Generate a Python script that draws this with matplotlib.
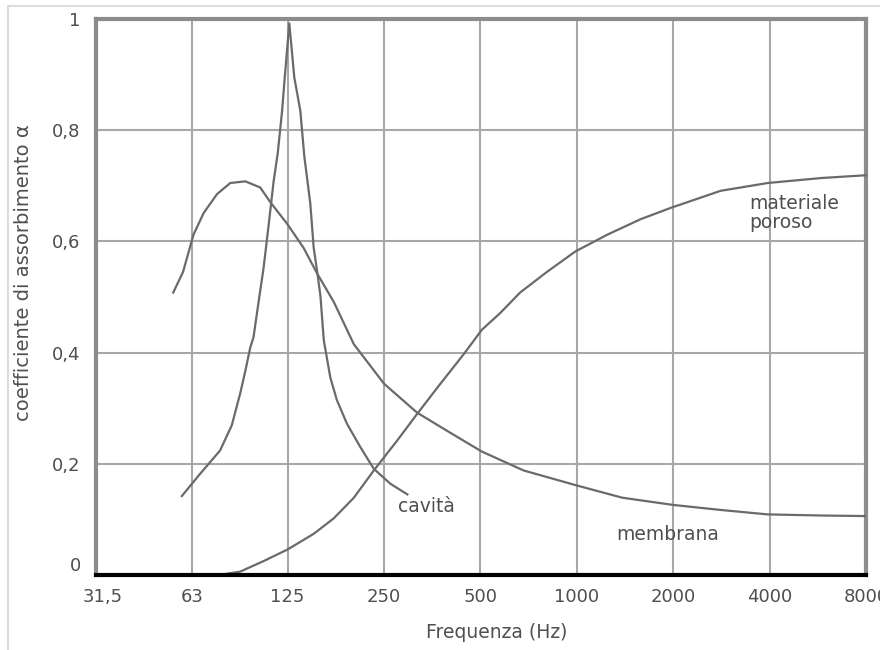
import matplotlib
matplotlib.use('Agg')
import matplotlib.pyplot as plt
from matplotlib.lines import Line2D
from matplotlib.transforms import ScaledTranslation

# octave bands (Hz) and absorption axis
freq_ticks = [31.5, 63, 125, 250, 500, 1000, 2000, 4000, 8000]
freq_labels = ['31,5', '63', '125', '250', '500', '1000', '2000', '4000', '8000']
alpha_ticks = [0, 0.2, 0.4, 0.6, 0.8, 1]
alpha_labels = ['0', '0,2', '0,4', '0,6', '0,8', '1']

# membrana (broad low-frequency peak)
membrana_f = [54.9, 58.9, 63.5, 68.3, 75.2, 82.7, 92.2, 102.6, 110.2, 124.4, 140.3,
              154.6, 174.2, 201.2, 250, 317, 402, 505, 682, 1000, 1387, 2000, 2813,
              3943, 5800, 8000]
membrana_a = [0.508, 0.545, 0.612, 0.651, 0.685, 0.705, 0.708, 0.697, 0.671, 0.632,
              0.588, 0.542, 0.491, 0.415, 0.344, 0.292, 0.256, 0.222, 0.188, 0.161,
              0.139, 0.126, 0.117, 0.109, 0.107, 0.106]

# cavita' (resonator, sharp peak at 125 Hz)
cavita_f = [58.4, 66.6, 76.9, 83.6, 88.8, 92.2, 95.5, 97.8, 101.4, 105.1, 109, 113,
            116.4, 120.1, 122.4, 126.5, 131.1, 136.9, 140.9, 147.1, 150.7, 154.6,
            158.2, 162.1, 169.9, 178.2, 191.5, 210.8, 232.2, 261.8, 295.6]
cavita_a = [0.142, 0.182, 0.224, 0.269, 0.326, 0.367, 0.409, 0.428, 0.491, 0.552,
            0.629, 0.708, 0.759, 0.835, 0.895, 0.992, 0.895, 0.835, 0.753, 0.668,
            0.589, 0.545, 0.502, 0.422, 0.355, 0.314, 0.272, 0.23, 0.191, 0.164, 0.145]

# materiale poroso
poroso_f = [75.9, 88.8, 105.1, 125, 150.7, 174.2, 201.2, 232.2, 274.9, 317.4, 374.9,
            443.1, 505, 576, 665, 806, 990, 1244, 1583, 1958, 2813, 3943, 5803, 8000]
poroso_a = [0.0, 0.006, 0.025, 0.046, 0.074, 0.102, 0.139, 0.188, 0.242, 0.29, 0.344,
            0.397, 0.441, 0.471, 0.508, 0.545, 0.582, 0.612, 0.64, 0.66, 0.691, 0.705,
            0.714, 0.719]

txt = '#4f4f4f'
curve = '#6a6a6a'
plt.rcParams['font.family'] = ['DejaVu Sans']

fig = plt.figure(figsize=(8.8, 6.5), dpi=100)
ax = fig.add_axes([96/880, 1-575/650, 770/880, 556/650])

ax.plot(membrana_f, membrana_a, color=curve, lw=1.6, zorder=3)
ax.plot(cavita_f, cavita_a, color=curve, lw=1.6, zorder=3)
ax.plot(poroso_f, poroso_a, color=curve, lw=1.6, zorder=3, clip_on=False)

ax.set_xscale('log', base=2)
ax.set_xlim(31.5, 8000)
ax.set_ylim(0, 1)
ax.set_xticks(freq_ticks, freq_labels)
ax.set_yticks(alpha_ticks, alpha_labels)
ax.minorticks_off()
ax.grid(True, color='#a8a8a8', lw=1.5)
ax.set_axisbelow(True)
ax.tick_params(axis='both', length=0, labelsize=13, labelcolor=txt)
ax.tick_params(axis='x', pad=9)
ax.tick_params(axis='y', pad=11)

# small shifts seen in the original labels
ax.get_yticklabels()[0].set_va('bottom')
xl0 = ax.get_xticklabels()[0]
xl0.set_transform(xl0.get_transform() + ScaledTranslation(7/100, 0, fig.dpi_scale_trans))

for s in ['left', 'top', 'right']:
    ax.spines[s].set_color('#8c8c8c')
    ax.spines[s].set_linewidth(3)
ax.spines['bottom'].set_color('black')
ax.spines['bottom'].set_linewidth(3)
ax.spines['bottom'].set_zorder(4)

ax.set_xlabel('Frequenza (Hz)', fontsize=13.5, color=txt)
ax.xaxis.set_label_coords(0.52, -0.086)
ax.set_ylabel('coefficiente di assorbimento α', fontsize=14, color=txt)
ax.yaxis.set_label_coords(-0.082, 0.543)

ax.text(3450, 0.686, 'materiale\nporoso', fontsize=13.5, color=txt, va='top',
        ha='left', linespacing=1.05)
ax.text(277, 0.124, 'cavità', fontsize=13.5, color=txt, va='center', ha='left')
ax.text(1323, 0.072, 'membrana', fontsize=13.5, color=txt, va='center', ha='left')

# thin frame of the picture
fig.add_artist(Line2D([8/880, 1], [1-6/650, 1-6/650], color='#dddddd', lw=1.5))
fig.add_artist(Line2D([8/880, 8/880], [0, 1-6/650], color='#dddddd', lw=1.5))

fig.savefig('out.png', dpi=100)
